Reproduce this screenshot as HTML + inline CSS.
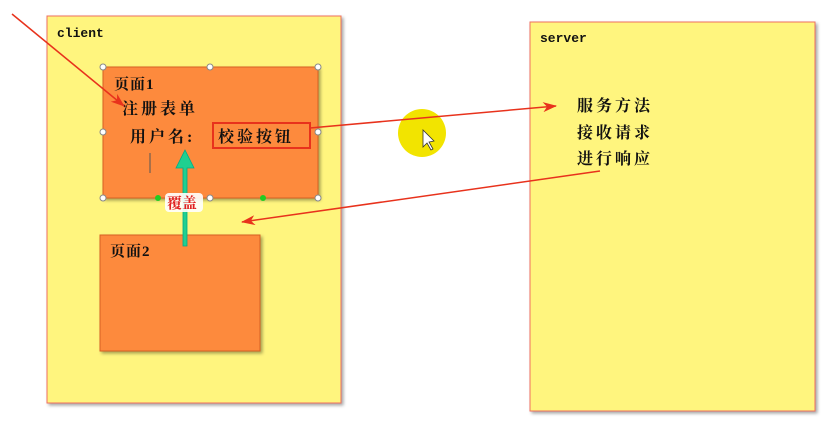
<!DOCTYPE html>
<html><head><meta charset="utf-8"><style>
body{margin:0;background:#fff;}
svg{display:block;}
text{font-family:"Liberation Serif","Noto Serif CJK SC",serif;font-weight:bold;fill:#111;}
.m{font-family:"Liberation Mono",monospace;font-weight:bold;font-size:13px;}
.c{font-size:16px;letter-spacing:3px;}
</style></head><body>
<svg width="832" height="423" viewBox="0 0 832 423" xmlns="http://www.w3.org/2000/svg">
<defs>
<marker id="r" markerWidth="14" markerHeight="10" refX="13" refY="5" orient="auto" markerUnits="userSpaceOnUse"><path d="M0,0 L14,5 L0,10 L4,5z" fill="#e8321c"/></marker>
<filter id="s"><feDropShadow dx="2" dy="2" stdDeviation="1.5" flood-opacity="0.35"/></filter>
</defs>
<rect x="47" y="16" width="294" height="387" fill="#fff57e" stroke="#f07060" filter="url(#s)"/>
<rect x="530" y="22" width="285" height="389" fill="#fff57e" stroke="#f07060" filter="url(#s)"/>
<text class="m" x="57" y="37">client</text>
<text class="m" x="540" y="42">server</text>
<rect x="103" y="67" width="215" height="131" fill="#fd8a3c" stroke="#d86020" filter="url(#s)"/>
<rect x="100" y="235" width="160" height="116" fill="#fd8a3c" stroke="#d86020" filter="url(#s)"/>
<g fill="#fff" stroke="#888">
<circle cx="103" cy="67" r="3"/><circle cx="210" cy="67" r="3"/><circle cx="318" cy="67" r="3"/>
<circle cx="103" cy="132" r="3"/><circle cx="318" cy="132" r="3"/>
<circle cx="103" cy="198" r="3"/><circle cx="210" cy="198" r="3"/><circle cx="318" cy="198" r="3"/>
</g>
<circle cx="158" cy="198" r="3" fill="#2c2"/><circle cx="263" cy="198" r="3" fill="#2c2"/>
<text x="114" y="89" font-size="15" letter-spacing="1">页面1</text>
<text class="c" x="122" y="114">注册表单</text>
<text class="c" x="130" y="142">用户名:</text>
<line x1="150" y1="153" x2="150" y2="173" stroke="#555"/>
<rect x="213" y="123" width="97" height="25" fill="none" stroke="#e8321c" stroke-width="2"/>
<text class="c" x="218" y="142">校验按钮</text>
<text x="110" y="256" font-size="15" letter-spacing="1">页面2</text>
<text class="c" x="577" y="111">服务方法</text>
<text class="c" x="577" y="138">接收请求</text>
<text class="c" x="577" y="164">进行响应</text>
<circle cx="422" cy="133" r="24" fill="#f2e400"/>
<path d="M423,130 L423,147 L427,143 L431,150 L433,149 L429,142 L434,141z" fill="#fff" stroke="#333" stroke-width="0.8"/>
<line x1="12" y1="14" x2="124" y2="106" stroke="#e8321c" stroke-width="1.5" marker-end="url(#r)"/>
<line x1="310" y1="128" x2="556" y2="106" stroke="#e8321c" stroke-width="1.5" marker-end="url(#r)"/>
<line x1="600" y1="171" x2="242" y2="222" stroke="#e8321c" stroke-width="1.5" marker-end="url(#r)"/>
<path d="M183,246 L183,168 L176,168 L185,150 L194,168 L187,168 L187,246z" fill="#20d090" stroke="#0a8" stroke-width="0.8"/>
<rect x="165" y="193" width="38" height="19" rx="4" fill="#fff" opacity="0.9"/>
<text x="167" y="208" font-size="15" style="fill:#e02020">覆盖</text>
</svg>
</body></html>
